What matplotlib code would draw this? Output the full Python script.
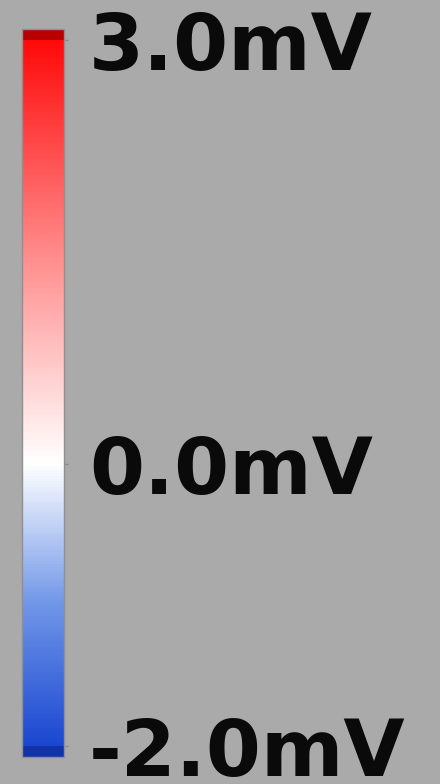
import numpy as np
import matplotlib.pyplot as plt
from matplotlib import colors
from matplotlib.cm import ScalarMappable

# colour scale of the potential map
vmin, vmax = -2.0, 3.0
tick_values = [-2.0, 0.0, 3.0]
tick_labels = ['-2.0mV', '0.0mV', '3.0mV']
scale_values = [-2.0, -1.0, 0.0, 1.5, 3.0]
scale_colors = ['#1a47d0', '#7096e8', '#ffffff', '#ff8a8a', '#ff0a0a']

bg = '#aaaaaa'

fig = plt.figure(figsize=(4.4, 7.84), dpi=100, facecolor=bg)
cax = fig.add_axes([0.05, 0.0344, 0.0955, 0.9286])

pos = [(v - vmin) / (vmax - vmin) for v in scale_values]
cmap = colors.LinearSegmentedColormap.from_list('mv', list(zip(pos, scale_colors)))
cmap.set_over('#b80000')
cmap.set_under('#1233a8')
norm = colors.Normalize(vmin=vmin, vmax=vmax)

sm = ScalarMappable(norm=norm, cmap=cmap)
cb = fig.colorbar(sm, cax=cax, extend='both', extendrect=True, extendfrac=0.0156)
cb.outline.set_edgecolor('#909090')
cb.outline.set_linewidth(1.0)
cb.set_ticks(tick_values)
cb.set_ticklabels(tick_labels)
cax.tick_params(axis='y', length=3, width=1, color='#8a8a8a', pad=15,
                labelsize=57, labelcolor='#0a0a0a')
for t in cax.get_yticklabels():
    t.set_fontweight('bold')
    t.set_family('DejaVu Sans')

fig.savefig('out.png', dpi=100, facecolor=bg)
